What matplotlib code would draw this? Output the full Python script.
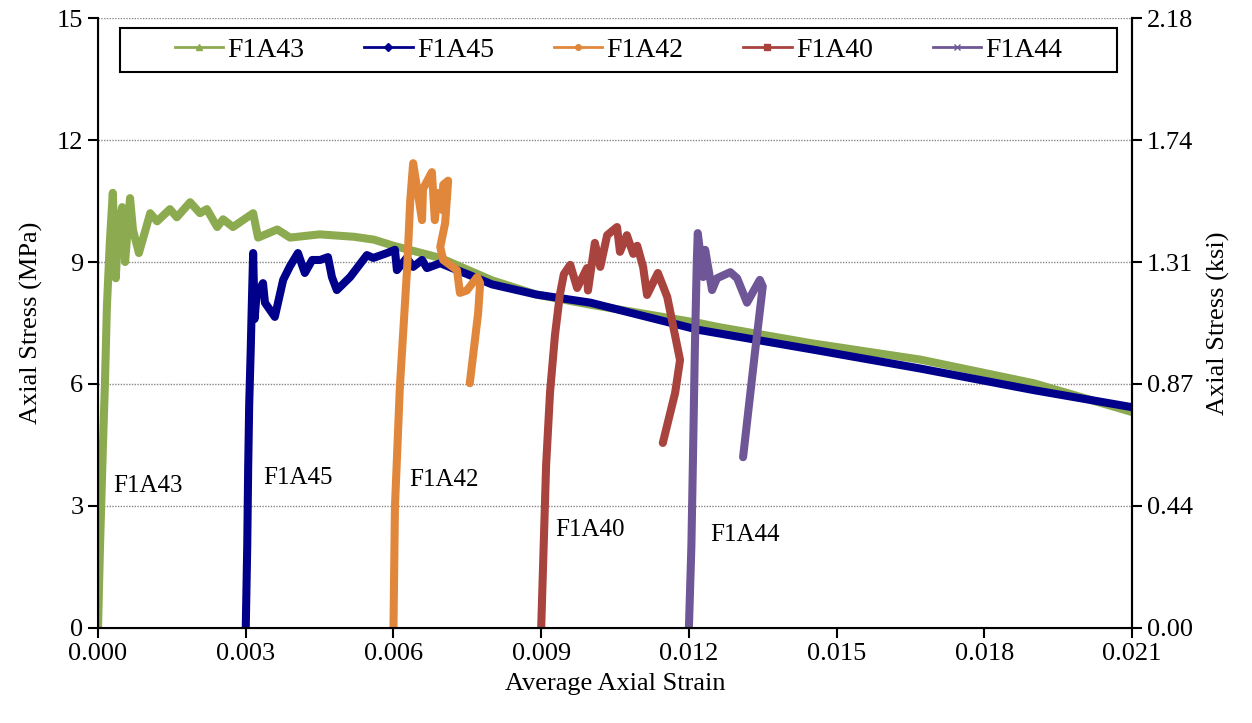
import numpy as np
import matplotlib.pyplot as plt
from matplotlib.lines import Line2D
from matplotlib.patches import Rectangle
from matplotlib.ticker import FormatStrFormatter

plt.rcParams['font.family'] = ['Liberation Serif', 'DejaVu Serif']

# ---------------- data ----------------
f1a43_x = [0.0, 0.00004, 0.0001, 0.00014, 0.00018, 0.00024, 0.0003, 0.00036, 0.00041, 0.00049,
           0.00055, 0.00065, 0.00071, 0.00083, 0.00106, 0.0012, 0.00146, 0.0016, 0.00187, 0.00207,
           0.00221, 0.00242, 0.00254, 0.00274, 0.00315, 0.00325, 0.00364, 0.0039, 0.0045, 0.0052,
           0.0056, 0.006, 0.00695, 0.008, 0.0089, 0.01, 0.0122, 0.0126, 0.0145, 0.0167, 0.019, 0.021]
f1a43_y = [0.0, 2.0, 4.5, 6.0, 7.9, 9.5, 10.7, 8.6, 9.79, 10.35,
           9.0, 10.57, 9.79, 9.22, 10.2, 10.0, 10.3, 10.1, 10.47, 10.2,
           10.3, 9.86, 10.05, 9.86, 10.2, 9.6, 9.8, 9.6, 9.68, 9.62,
           9.55, 9.4, 9.1, 8.55, 8.2, 7.95, 7.5, 7.4, 7.0, 6.6, 6.02, 5.31]

f1a45_x = [0.003, 0.00303, 0.00305, 0.00307, 0.0031, 0.00312, 0.00315, 0.00318, 0.00322, 0.00335,
           0.00339, 0.00359, 0.00376, 0.0039, 0.00406, 0.0042, 0.00435, 0.00451, 0.00467, 0.00475,
           0.00485, 0.00512, 0.00546, 0.00559, 0.00587, 0.00603, 0.00607, 0.00627, 0.0064, 0.00658,
           0.00668, 0.00695, 0.0075, 0.008, 0.0089, 0.01, 0.0122, 0.0145, 0.0167, 0.019, 0.021]
f1a45_y = [0.0, 2.0, 4.0, 5.5, 6.8, 7.8, 9.22, 7.6, 8.2, 8.48,
           8.0, 7.65, 8.56, 8.9, 9.22, 8.73, 9.05, 9.05, 9.12, 8.63,
           8.31, 8.63, 9.17, 9.1, 9.22, 9.3, 8.8, 9.1, 8.88, 9.05,
           8.85, 8.97, 8.7, 8.45, 8.2, 8.0, 7.33, 6.85, 6.38, 5.85, 5.43]

f1a42_x = [0.006, 0.00603, 0.00613, 0.00628, 0.00634, 0.0064, 0.00658, 0.0066, 0.00678, 0.00684,
           0.00689, 0.00699, 0.00701, 0.00711, 0.00705, 0.00695, 0.00701, 0.00729, 0.00735, 0.00749,
           0.0077, 0.00776, 0.00772, 0.00755]
f1a42_y = [0.0, 2.98, 5.93, 8.9, 10.5, 11.43, 10.03, 10.8, 11.21, 10.03,
           10.7, 10.28, 10.9, 11.0, 9.96, 9.37, 9.05, 8.8, 8.24, 8.3,
           8.63, 8.48, 7.75, 6.02]

f1a40_x = [0.009, 0.00905, 0.0091, 0.00918, 0.00928, 0.00938, 0.00946, 0.00959, 0.00973, 0.00993,
           0.00995, 0.01009, 0.0102, 0.01034, 0.01054, 0.0106, 0.01074, 0.01087, 0.01095, 0.01107,
           0.01115, 0.01137, 0.01156, 0.01182, 0.01172, 0.01147]
f1a40_y = [0.0, 2.0, 4.0, 5.8, 7.2, 8.2, 8.7, 8.93, 8.36, 8.85,
           8.3, 9.47, 8.88, 9.66, 9.86, 9.25, 9.66, 9.2, 9.4, 8.88,
           8.19, 8.73, 8.14, 6.59, 5.78, 4.55]

f1a44_x = [0.012, 0.01205, 0.01208, 0.01212, 0.01216, 0.01218, 0.01229, 0.01233, 0.01247, 0.01257,
           0.01284, 0.01298, 0.01318, 0.01344, 0.0135, 0.01334, 0.0131]
f1a44_y = [0.0, 2.0, 4.0, 6.8, 9.0, 9.71, 8.63, 9.3, 8.31, 8.6,
           8.75, 8.6, 8.0, 8.56, 8.4, 6.76, 4.2]

names = ['F1A43', 'F1A45', 'F1A42', 'F1A40', 'F1A44']
label_pos = [(0.0003, 3.5), (0.00335, 3.69), (0.00632, 3.64), (0.00928, 2.41), (0.01243, 2.29)]
colors = ['#8CAA4F', '#00008B', '#E1873C', '#A9433E', '#6E5697']
markers = ['^', 'D', 'o', 's', 'x']

x_ticks = np.arange(0, 0.0211, 0.003)
y_ticks = [0, 3, 6, 9, 12, 15]
ksi_labels = ['0.00', '0.44', '0.87', '1.31', '1.74', '2.18']

series = [(f1a43_x, f1a43_y), (f1a45_x, f1a45_y), (f1a42_x, f1a42_y),
          (f1a40_x, f1a40_y), (f1a44_x, f1a44_y)]

# ---------------- plot ----------------
fig = plt.figure(figsize=(12.52, 7.23), dpi=100)
ax = fig.add_axes([0.0783, 0.1314, 0.8259, 0.8437])

for (xs, ys), c in zip(series, colors):
    ax.plot(xs, ys, color=c, lw=5.8, solid_joinstyle='round', solid_capstyle='round')

for n, (tx, ty) in zip(names, label_pos):
    ax.text(tx, ty, n, fontsize=18, ha='left', va='center')

ax.set_xlim(0, 0.021)
ax.set_ylim(0, 15)
ax.set_xticks(x_ticks)
ax.set_yticks(y_ticks)
ax.xaxis.set_major_formatter(FormatStrFormatter('%.3f'))
ax.yaxis.grid(True, linestyle=(0, (1, 1)), color='#888888', lw=1)
ax.set_axisbelow(True)
for s in ['left', 'bottom', 'right']:
    ax.spines[s].set_linewidth(1.5)
ax.spines['top'].set_visible(False)
ax.tick_params(direction='out', length=7, width=1.5, labelsize=19)
ax.set_xlabel('Average Axial Strain', fontsize=19, labelpad=6)
ax.set_ylabel('Axial Stress (MPa)', fontsize=19, labelpad=10)

ax2 = ax.twinx()
ax2.set_ylim(0, 15)
ax2.set_yticks(y_ticks)
ax2.set_yticklabels(ksi_labels)
ax2.spines['top'].set_visible(False)
ax2.spines['right'].set_linewidth(1.5)
ax2.tick_params(direction='out', length=7, width=1.5, labelsize=19)
ax2.set_ylabel('Axial Stress (ksi)', fontsize=19, labelpad=10)

# legend box drawn separately so it can be wider than the entries
box = Rectangle((0.021, 0.9115), 0.9645, 0.072, transform=ax.transAxes,
                facecolor='white', edgecolor='black', lw=1.5, zorder=5)
ax.add_patch(box)
handles = [Line2D([0], [0], color=c, lw=2, marker=m, markersize=4) for c, m in zip(colors, markers)]
leg = ax.legend(handles, names, ncol=5, loc='center',
                bbox_to_anchor=(0.021 + 0.9645 / 2, 0.9115 + 0.036),
                fontsize=20, frameon=False,
                handlelength=1.75, handletextpad=0.15, columnspacing=2.15)
leg.set_zorder(6)

fig.savefig('out.png', dpi=100)
